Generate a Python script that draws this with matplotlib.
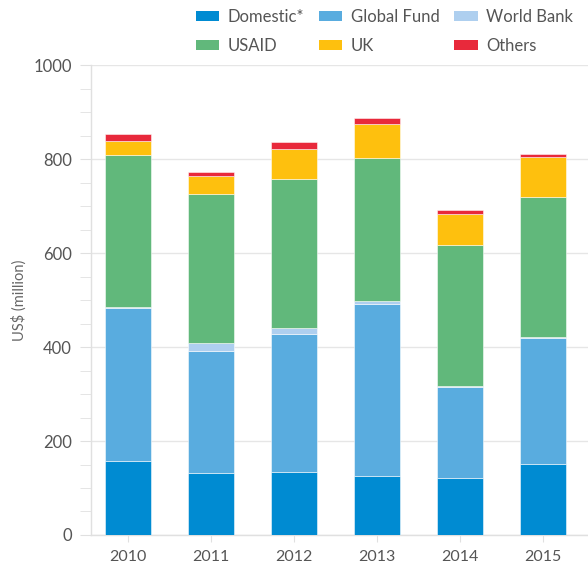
import matplotlib
matplotlib.use("Agg")
import matplotlib.pyplot as plt
import numpy as np
from matplotlib.ticker import MultipleLocator

plt.rcParams['font.family'] = ['Lato', 'DejaVu Sans']

years = ["2010", "2011", "2012", "2013", "2014", "2015"]
domestic = [158, 131, 135, 125, 122, 151]
global_fund = [325, 261, 293, 366, 194, 268]
world_bank = [2, 16, 13, 8, 1, 2]
usaid = [325, 318, 316, 304, 300, 298]
uk = [29, 38, 65, 73, 67, 86]
others = [15, 9, 15, 12, 8, 6]

series = [
    ("Domestic*", domestic, "#008bd2"),
    ("Global Fund", global_fund, "#59acdf"),
    ("World Bank", world_bank, "#aecfef"),
    ("USAID", usaid, "#61b87b"),
    ("UK", uk, "#fec00e"),
    ("Others", others, "#e8293b"),
]

fig = plt.figure(figsize=(5.88, 5.66), dpi=100)
ax = fig.add_axes([0.155, 0.0548, 0.845, 0.8298])

x = np.arange(len(years))
bottom = np.zeros(len(years))
handles = []
for name, vals, col in series:
    b = ax.bar(x, vals, width=0.55, bottom=bottom, color=col,
               edgecolor=(1, 1, 1, 0.6), linewidth=0.6, label=name, zorder=3)
    handles.append(b)
    bottom += np.array(vals)

ax.set_xlim(-0.446, 5.54)
ax.set_ylim(0, 1000)
ax.yaxis.set_major_locator(MultipleLocator(200))
ax.yaxis.set_minor_locator(MultipleLocator(50))
ax.set_xticks(x)
ax.set_xticklabels(years)

ax.grid(axis="y", which="major", color="#e6e6e6", linewidth=1, zorder=0)
for side in ["top", "right"]:
    ax.spines[side].set_visible(False)
for side in ["left", "bottom"]:
    ax.spines[side].set_color("#e0e0e0")
    ax.spines[side].set_linewidth(1)

ax.tick_params(axis="y", which="both", length=8, color="#e0e0e0",
               labelsize=12, labelcolor="#555555", pad=6)
ax.tick_params(axis="x", length=5, color="#e0e0e0",
               labelsize=11.5, labelcolor="#555555", pad=6)
ax.set_ylabel("US$ (million)", fontsize=10.5, color="#666666", labelpad=5)

# legend filled column by column, so reorder to read row by row
order = [0, 3, 1, 4, 2, 5]
leg = fig.legend(handles=[handles[i] for i in order], loc="upper right",
                 bbox_to_anchor=(1.0, 1.01), ncol=3, frameon=False,
                 fontsize=12, handlelength=1.4, handleheight=0.55,
                 handletextpad=0.5, columnspacing=0.9, labelspacing=0.75)
for t in leg.get_texts():
    t.set_color("#555555")
for h in leg.legend_handles:
    h.set_edgecolor("none")

fig.savefig("out.png", dpi=100)
